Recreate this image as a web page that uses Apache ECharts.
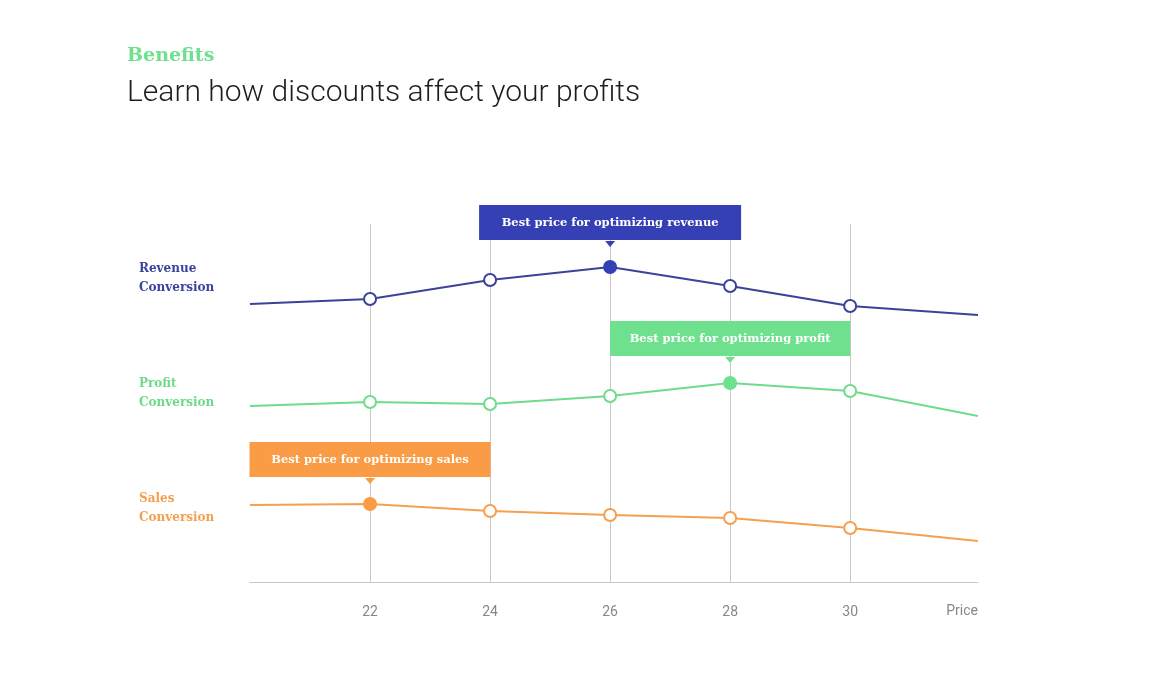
<!DOCTYPE html>
<html>
<head>
<meta charset="utf-8">
<title>Benefits</title>
<script src="https://cdn.jsdelivr.net/npm/echarts@6/dist/echarts.min.js"></script>
<style>
  html, body { margin: 0; padding: 0; background: #fff; }
  #chart { width: 1172px; height: 692px; }
</style>
</head>
<body>
<div id="chart"></div>
<script>
// price points (first and last are only the line ends)
var prices = [20, 22, 24, 26, 28, 30, 32.13];
var priceTicks = [22, 24, 26, 28, 30];

// conversion values
var revenue = [278, 283, 302, 315, 296, 276, 267];
var profit  = [176, 180, 178, 186, 199, 191, 166];
var sales   = [77, 78, 71, 67, 64, 54, 41];

// index of the best price in each series
var bestRevenue = 3;
var bestProfit = 4;
var bestSales = 1;

var slab = 'DejaVu Serif';

function buildData(values, best, color, boxText, boxWidth) {
    return values.map(function (v, i) {
        var item = { value: [prices[i], v] };
        if (i === 0 || i === values.length - 1) {
            item.symbol = 'none';
        } else if (i === best) {
            item.itemStyle = { color: color, borderColor: color };
            item.label = {
                show: true,
                position: 'top',
                distance: 20,
                formatter: boxText,
                color: '#fff',
                fontFamily: slab,
                fontWeight: 'bold',
                fontSize: 11.5,
                backgroundColor: color,
                width: boxWidth,
                align: 'center',
                padding: [12, 0, 11, 0]
            };
        }
        return item;
    });
}

function lineSeries(name, values, best, lineColor, boxColor, boxText, boxWidth) {
    return {
        name: name,
        type: 'line',
        silent: true,
        data: buildData(values, best, boxColor, boxText, boxWidth),
        symbol: 'circle',
        symbolSize: 12,
        showAllSymbol: true,
        lineStyle: { color: lineColor, width: 2 },
        itemStyle: { color: '#fff', borderColor: lineColor, borderWidth: 2 },
        label: { show: false },
        emphasis: { disabled: true },
        markPoint: {
            silent: true,
            symbol: 'triangle',
            symbolRotate: 180,
            symbolSize: [10, 6],
            symbolOffset: [0, -23],
            itemStyle: { color: boxColor },
            label: { show: false },
            data: [{ coord: [prices[best], values[best]] }]
        }
    };
}

var chart = echarts.init(document.getElementById('chart'));

var option = {
    backgroundColor: '#fff',
    animation: false,
    title: [
        {
            text: 'Benefits',
            subtext: 'Learn how discounts affect your profits',
            left: 122,
            top: 42,
            itemGap: 12,
            textStyle: { color: '#6fe08d', fontFamily: slab, fontWeight: 'bold', fontSize: 19 },
            subtextStyle: { color: '#1e1e1e', fontFamily: 'Roboto', fontWeight: 300, fontSize: 30 }
        },
        {
            text: 'Revenue\nConversion',
            left: 134, top: 254,
            textStyle: { color: '#3a44a0', fontFamily: slab, fontWeight: 'bold', fontSize: 12, lineHeight: 19 }
        },
        {
            text: 'Profit\nConversion',
            left: 134, top: 369,
            textStyle: { color: '#6fd98a', fontFamily: slab, fontWeight: 'bold', fontSize: 12, lineHeight: 19 }
        },
        {
            text: 'Sales\nConversion',
            left: 134, top: 484,
            textStyle: { color: '#f5a04f', fontFamily: slab, fontWeight: 'bold', fontSize: 12, lineHeight: 19 }
        }
    ],
    grid: { left: 250, right: 194, top: 224, bottom: 110 },
    xAxis: {
        type: 'value',
        min: 20,
        max: 32.13,
        name: 'Price',
        nameLocation: 'end',
        nameGap: 0,
        nameTextStyle: {
            color: '#888', fontFamily: 'Roboto', fontSize: 14,
            align: 'right', verticalAlign: 'top', padding: [22, 0, 0, 0]
        },
        axisLine: { lineStyle: { color: '#c8c8c8', width: 1 } },
        axisTick: { show: false, customValues: priceTicks },
        splitLine: { show: true, lineStyle: { color: '#c8c8c8', width: 1, type: 'solid' } },
        axisLabel: {
            customValues: priceTicks,
            color: '#888',
            fontFamily: 'Roboto',
            fontSize: 14,
            margin: 23
        }
    },
    yAxis: {
        type: 'value',
        min: 0,
        max: 358,
        show: false,
        splitLine: { show: false }
    },
    series: [
        lineSeries('Revenue', revenue, bestRevenue, '#3a4399', '#3540b5',
            'Best price for optimizing revenue', 262),
        lineSeries('Profit', profit, bestProfit, '#6fdc8c', '#6fe08d',
            'Best price for optimizing profit', 240),
        lineSeries('Sales', sales, bestSales, '#f5a04f', '#f99c45',
            'Best price for optimizing sales', 241)
    ]
};

chart.setOption(option);
</script>
</body>
</html>
